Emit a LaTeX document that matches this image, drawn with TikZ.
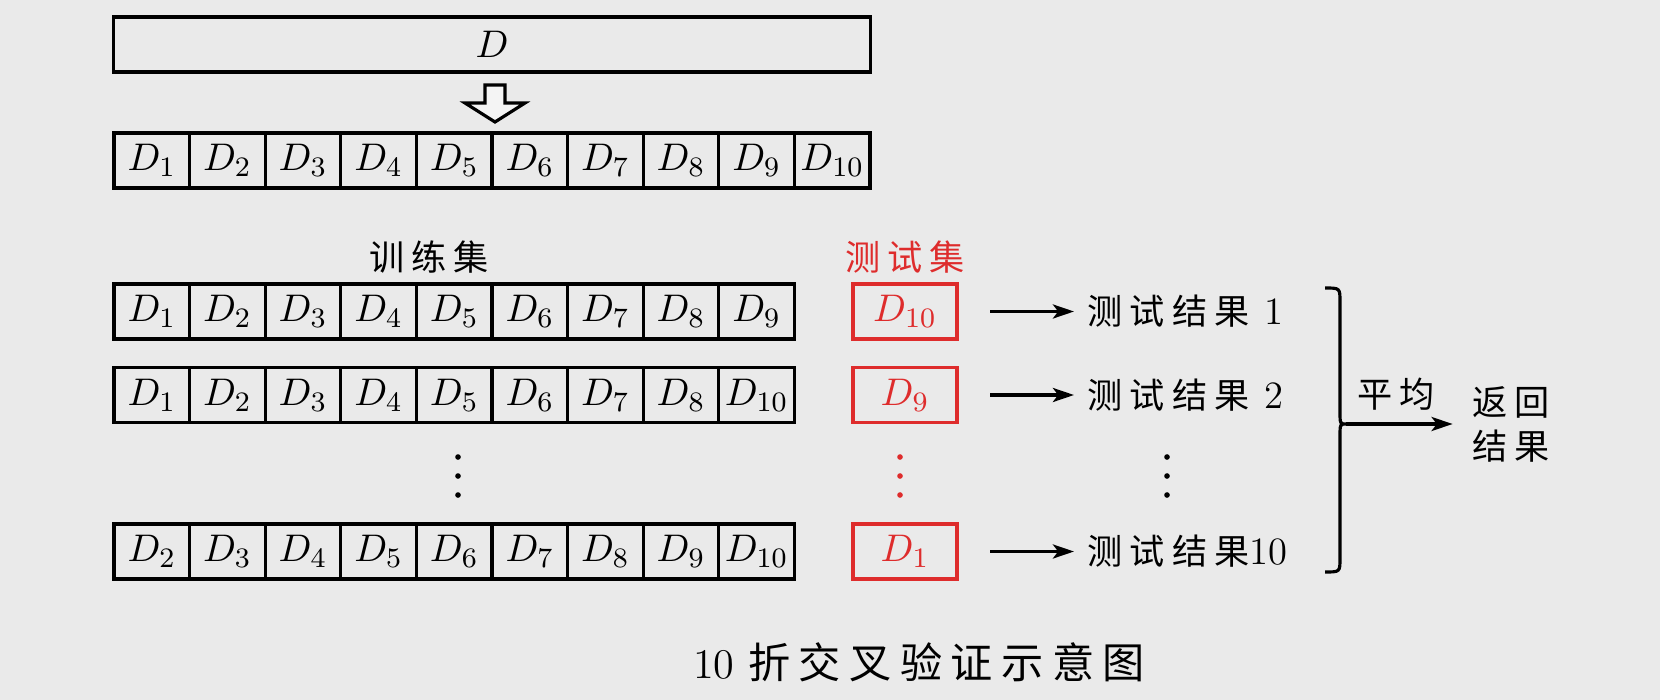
\documentclass[tikz,border=0pt]{standalone}
\usepackage{fontspec}
\usepackage{xcolor}
\usepackage{tikz}
\usetikzlibrary{shapes,arrows.meta,positioning,calc}
\newfontfamily\cjk[LetterSpace=20]{Noto Sans CJK SC}
\definecolor{bggray}{RGB}{234,234,234}
\definecolor{testred}{RGB}{222,44,44}
\tikzset{
    cell/.style={draw,line width=0.9pt,minimum width=0.756cm,minimum height=0.55cm,inner sep=0pt,font=\fontsize{11}{13}\selectfont},
    testbox/.style={cell,draw=testred,text=testred,minimum width=1.04cm},
    lbl/.style={font=\fontsize{10}{12}\selectfont\cjk,inner sep=0pt},
    res/.style={lbl,anchor=west},
    arr/.style={-{Stealth[length=6pt,width=4pt,inset=1.5pt]},line width=0.9pt},
}
\newcommand{\num}[1]{{\rmfamily\fontsize{11}{13}\selectfont #1}}

\begin{document}
\begin{tikzpicture}[x=0.01cm,y=-0.01cm]
    \fill[bggray] (0,0) rectangle (1660,700);

    \node[cell,minimum width=7.56cm] (d) at (492,44.5) {$D$};
    \draw[line width=0.9pt,fill=white!50!bggray] (485,85) -- (505,85) -- (505,103) -- (525,103) -- (495,122) -- (465,103) -- (485,103) -- cycle;

    \foreach \i in {1,...,10}
        \node[cell] (a\i) at ({114+75.6*(\i-0.5)},160.5) {$D_{\i}$};

    \node[lbl] (train) at (429,257) {训练集};
    \node[lbl,text=testred] (test) at (905,257) {测试集};

    \foreach \i in {1,...,9}
        \node[cell] (b\i) at ({114+75.6*(\i-0.5)},311.5) {$D_{\i}$};
    \foreach \k [count=\i] in {1,...,8,10}
        \node[cell] (c\i) at ({114+75.6*(\i-0.5)},395) {$D_{\k}$};
    \foreach \k [count=\i] in {2,...,10}
        \node[cell] (e\i) at ({114+75.6*(\i-0.5)},551.5) {$D_{\k}$};

    \node[testbox] (t1) at (905,311.5) {$D_{10}$};
    \node[testbox] (t2) at (905,395) {$D_9$};
    \node[testbox] (t3) at (905,551.5) {$D_1$};

    \node[res] (r1) at (1087,311.5) {测试结果 \num{1}};
    \node[res] (r2) at (1087,395) {测试结果 \num{2}};
    \node[res] (r3) at (1087,551.5) {测试结果\num{10}};

    \draw[arr,shorten <=9pt,shorten >=3.7pt] (t1) -- (r1);
    \draw[arr,shorten <=9pt,shorten >=3.7pt] (t2) -- (r2);
    \draw[arr,shorten <=9pt,shorten >=3.7pt] (t3) -- (r3);

    \foreach \y in {457,476,495} {
        \fill (458,\y) circle (0.8pt);
        \fill[testred] (900,\y) circle (0.8pt);
        \fill (1167,\y) circle (0.8pt);
    }

    \draw[line width=0.9pt] (1325,288) .. controls (1340,288) .. (1340,302) -- (1340,412)
        .. controls (1340,424) .. (1347,424) .. controls (1340,424) .. (1340,436)
        -- (1340,558) .. controls (1340,572) .. (1325,572);
    \coordinate (bt) at (1346,424);

    \node[lbl] (avg) at (1396,394) {平均};
    \node[lbl,align=center] (ret) at (1511,424) {返回\\[0.5pt]结果};
    \draw[arr,shorten >=5.4pt] (bt) -- (ret.west);

    \node[font=\fontsize{12}{14}\selectfont] (cap) at (919,662) {10 {\cjk 折交叉验证示意图}};
\end{tikzpicture}
\end{document}
